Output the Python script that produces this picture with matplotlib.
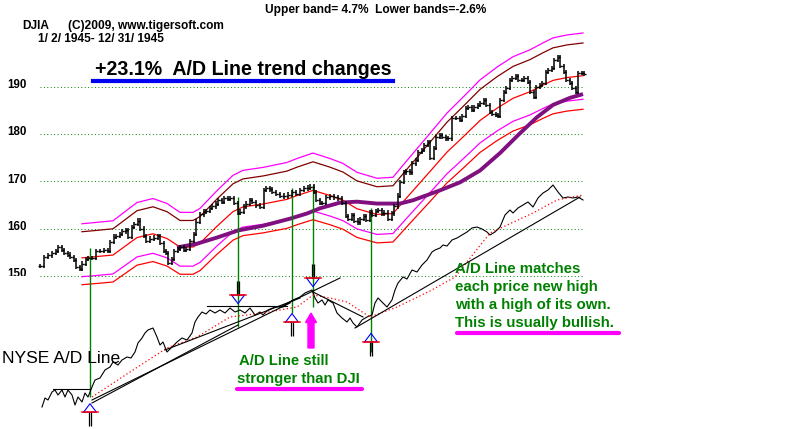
import numpy as np
import matplotlib
matplotlib.use("Agg")
import matplotlib.pyplot as plt
from matplotlib.lines import Line2D
from matplotlib.patches import Rectangle

plt.rcParams['font.family'] = ['Liberation Sans', 'DejaVu Sans']

# DJIA 1945, (trading day, close)
bars = [(0, 152.1), (2, 154.0), (4, 154.3), (6, 154.9), (8, 155.3), (9, 156.0), (11, 155.5),
        (12, 154.9), (14, 154.5), (15, 154.0), (17, 153.4), (18, 151.9), (20, 151.5), (21, 152.6),
        (23, 153.6), (24, 153.8), (26, 153.8), (28, 155.3), (30, 155.3), (32, 155.5), (34, 155.3),
        (35, 157.2), (37, 158.3), (38, 158.5), (40, 158.9), (41, 159.4), (43, 159.6), (44, 158.3),
        (46, 160.4), (47, 160.9), (49, 161.7), (50, 160.0), (52, 158.5), (53, 157.4), (55, 157.9),
        (57, 158.1), (59, 158.5), (60, 157.0), (62, 155.3), (63, 154.9), (64, 152.8), (66, 153.6),
        (67, 155.3), (69, 155.7), (70, 156.0), (72, 155.5), (73, 155.7), (75, 157.4), (77, 158.9),
        (78, 161.5), (80, 163.0), (82, 163.6), (83, 163.8), (85, 164.3), (86, 164.7), (88, 165.3),
        (89, 166.0), (91, 165.7), (92, 166.4), (94, 166.2), (95, 166.4), (97, 165.5), (99, 163.4),
        (100, 163.6), (102, 164.7), (103, 165.3), (105, 166.0), (106, 165.7), (108, 164.9),
        (110, 164.5), (112, 168.1), (113, 168.5), (115, 168.3), (116, 167.7), (118, 167.4),
        (120, 167.0), (122, 166.8), (124, 167.2), (126, 167.7), (128, 167.4), (130, 168.1),
        (132, 168.5), (134, 168.7), (135, 168.9), (137, 167.7), (138, 166.0), (140, 165.5),
        (141, 165.5), (143, 166.6), (145, 166.8), (147, 166.6), (149, 166.4), (151, 165.5),
        (153, 162.6), (154, 162.1), (156, 162.8), (157, 161.7), (159, 161.3), (160, 162.1),
        (162, 162.6), (163, 161.9), (165, 163.4), (166, 162.8), (168, 163.8), (169, 164.0),
        (171, 163.2), (172, 163.4), (174, 162.1), (176, 163.2), (177, 164.7), (179, 167.0),
        (180, 169.8), (182, 171.9), (183, 172.1), (185, 171.9), (186, 173.8), (188, 174.5),
        (189, 176.2), (191, 176.6), (192, 177.7), (194, 178.3), (195, 174.9), (197, 177.0),
        (198, 179.4), (200, 179.8), (201, 179.4), (203, 179.1), (204, 179.1), (206, 183.4),
        (208, 183.4), (210, 183.0), (211, 183.8), (213, 185.5), (214, 185.7), (216, 185.1),
        (217, 185.7), (219, 186.2), (220, 186.6), (222, 187.2), (223, 186.2), (225, 184.7),
        (226, 184.3), (228, 184.0), (229, 183.8), (230, 187.2), (232, 188.9), (233, 189.8),
        (235, 191.5), (236, 191.9), (238, 192.3), (239, 191.5), (241, 191.5), (242, 191.9),
        (244, 191.1), (245, 188.9), (247, 187.9), (248, 190.0), (250, 190.4), (251, 190.9),
        (253, 193.2), (254, 193.6), (256, 194.0), (257, 195.7), (259, 196.4), (260, 194.5),
        (262, 193.2), (263, 191.5), (265, 190.9), (266, 189.8), (268, 188.9), (269, 193.0),
        (271, 193.0), (272, 192.8)]
bar_day = np.array([b[0] for b in bars], dtype=float)
bar_close = np.array([b[1] for b in bars])

# centre band line and the band offsets
band_day = [21, 26.5, 36.5, 48.5, 56.5, 63.5, 70, 76.5, 80, 88.5, 96.5, 101.5, 111.5, 123.5,
            128.5, 136.5, 145, 151.5, 158.5, 168.5, 176.5, 183.5, 195, 203.5, 211.5, 220,
            228.5, 236.5, 245, 251.5, 256.5, 263.5, 271.5]
band_mid = np.array([153.8, 154.0, 154.4, 158.1, 158.9, 157.9, 156.1, 156.1, 156.9, 160.5,
                     163.6, 164.6, 165.2, 166.2, 167.0, 168.1, 167.0, 166.0, 164.2, 163.0,
                     163.2, 166.6, 172.1, 176.2, 179.4, 182.9, 185.5, 187.6, 189.0, 190.4,
                     191.4, 192.0, 192.4])
band_pcts = [0.047, 0.036, -0.026, -0.037]
band_colors = ['#ff00ff', '#800000', '#ff00ff', '#ff0000']

# long moving average (purple)
ma_day = [68.5, 78.5, 88.5, 99, 111.5, 125, 133.5, 140, 150, 158.5, 168.5, 180, 186.5, 200,
          210, 220, 230, 240, 248.5, 256.5, 265, 271.5]
ma_val = [156.0, 156.8, 158.1, 159.6, 160.6, 162.1, 163.2, 164.3, 165.5, 165.7, 165.3, 165.3,
          166.0, 168.1, 169.8, 172.3, 176.0, 180.2, 183.6, 186.2, 187.7, 188.5]

# NYSE A/D line
ad_day = [1, 2.5, 4, 6, 7.5, 9, 11, 12.5, 14, 16, 17.5, 19, 21, 22.5, 24, 26, 27.5, 30, 32.5,
          35, 36.5, 39, 41, 43.5, 45.5, 47.5, 49, 51, 52.5, 54, 56.5, 58.5, 60, 61.5, 63.5, 66,
          68.5, 71, 73.5, 76, 77.5, 79, 81, 83, 85, 87.5, 90, 92.5, 95, 97.5, 100, 102.5, 105,
          107.5, 110, 111.5, 114, 117.5, 121.5, 124, 126.5, 130, 132.5, 136, 137.5, 139, 141,
          142.5, 144, 146.5, 148.5, 151, 153.5, 155, 156.5, 158.5, 161, 163.5, 166, 167.5, 169,
          171, 173.5, 176, 177.5, 179, 181.5, 183.5, 186, 188.5, 191, 193.5, 196, 197.5, 200,
          201.5, 203.5, 206, 208.5, 211, 213.5, 216, 218.5, 221, 223.5, 225, 227.5, 230, 232.5,
          235, 236.5, 239, 241.5, 244, 246.5, 249, 251.5, 254, 256.5, 259, 261.5, 264, 266.5,
          269, 271.5]
ad_val = [-2140, -1960, -2000, -1840, -1800, -1900, -1800, -1940, -1800, -1900, -2100, -1940,
          -2040, -1860, -1940, -1740, -1600, -1560, -1400, -1340, -1240, -1300, -1200, -1140,
          -1160, -1040, -860, -760, -660, -600, -560, -740, -900, -840, -1040, -940, -840, -760,
          -800, -660, -440, -340, -240, -280, -200, -260, -200, -260, -160, -240, -200, -260,
          -160, -300, -240, -300, -200, -140, -140, -60, 0, 60, 140, 200, 40, -60, 0, -100, 0,
          -60, -260, -360, -440, -360, -460, -540, -400, -340, -300, -60, 40, -40, -140, 0, 200,
          340, 460, 420, 600, 560, 700, 800, 960, 1000, 1040, 1100, 1080, 1200, 1240, 1300, 1360,
          1440, 1460, 1420, 1360, 1300, 1360, 1460, 1700, 1800, 1740, 1840, 1900, 1960, 1860,
          2040, 2140, 2200, 2300, 2160, 2040, 2060, 2040, 2060, 2000]

# A/D moving average (red dotted)
adma_day = [26, 46.5, 63.5, 78.5, 95, 111.5, 128.5, 136.5, 145, 153.5, 165, 178.5, 195, 207.5,
            225, 246.5, 258.5, 271.5]
adma_val = [-1940, -1400, -960, -740, -340, -260, -140, 100, 40, -40, -340, -140, 180, 460,
            1340, 1740, 2000, 2100]

# A/D trendlines: (day0, ad0, day1, ad1)
trend_lines = [(26, -2000, 125, -60), (26, -2060, 99, -500), (62.5, -1000, 130, 40),
               (6.5, -1780, 25, -1780), (83.5, -120, 123.5, -120), (120, -140, 150, 440),
               (136.5, 160, 161.5, -340), (157.5, -560, 270, 2060)]

# trend change signals: green verticals (day, top, bottom) in price units
signal_day = [25, 99, 126, 136.5, 165.5]
signal_top = [155.9, 166.7, 168.6, 169.2, 164.4]
signal_bot = [124.3, 139.2, 142.1, 143.4, 133.9]

# arrows: day, base price, direction
arrow_day = [25, 99, 126, 136.5, 165.5]
arrow_base = [121.1, 145.9, 140.2, 149.5, 136.0]
arrow_dir = ['up', 'down', 'up', 'down', 'up']

price_ticks = [190, 180, 170, 160, 150]

fig = plt.figure(figsize=(8, 4.29), dpi=100)
ax = fig.add_axes([0, 0, 1, 1])
ax.set_xlim(-20, 380)
ax.set_ylim(117.54, 208.43)
ax.axis('off')

# grid
ax.hlines(price_ticks, 0, 272, colors='#008000', linestyles=[(0, (1, 2.5))], lw=0.7, zorder=1)
for t in price_ticks:
    ax.text(-16.5, t + 0.4, str(t), fontsize=8.3, fontweight='bold', va='center', ha='left')

# bands
for pct, col in zip(band_pcts, band_colors):
    ax.plot(band_day, band_mid * (1 + pct), color=col, lw=0.9, zorder=2)
ax.plot(band_day, band_mid, color='#ff0000', lw=0.9, zorder=2)
ax.plot(ma_day, ma_val, color='#80107f', lw=2.8, zorder=3, solid_capstyle='butt')

# price bars
bar_open = np.r_[bar_close[0], bar_close[:-1]]
hi = np.maximum(bar_open, bar_close) + 0.45
lo = np.minimum(bar_open, bar_close) - 0.45
ax.vlines(bar_day, lo, hi, color='black', lw=1.1, zorder=4)
ax.hlines(bar_open, bar_day - 1, bar_day, color='black', lw=1.0, zorder=4)
ax.hlines(bar_close, bar_day, bar_day + 1, color='black', lw=1.0, zorder=4)

# signal lines
ax.vlines(signal_day, signal_bot, signal_top, color='#008000', lw=1.0, zorder=3)

# A/D panel
ax2 = ax.twinx()
ax2.set_ylim(-2580, 6000)
ax2.axis('off')
ax2.plot(ad_day, ad_val, color='black', lw=0.8)
ax2.plot(adma_day, adma_val, color='#ff0000', lw=0.9, linestyle=(0, (1, 2)))
for d0, v0, d1, v1 in trend_lines:
    ax2.plot([d0, d1], [v0, v1], color='black', lw=0.8)

# arrows
for d, base, direction in zip(arrow_day, arrow_base, arrow_dir):
    s = 1 if direction == 'up' else -1
    ax.plot([d - 3.2, d + 3.2, d, d - 3.2], [base, base, base + s * 1.8, base],
            color='#0000ff', lw=0.8, zorder=6)
    ax.plot([d - 4, d + 4], [base, base], color='#ff0000', lw=1.1, zorder=7)
    ax.vlines([d - 0.6, d + 0.6], base - s * 3.0, base, color='black', lw=0.9, zorder=6)

ax.arrow(135.5, 134.7, 0, 7.4, width=3.0, head_width=5.5, head_length=2.0,
         length_includes_head=True, color='#ff00ff', zorder=8)


def fp(x, y):
    return x / 800, 1 - y / 429


# texts
fig.text(*fp(265, 13), 'Upper band= 4.7%  Lower bands=-2.6%', fontsize=8.6, fontweight='bold',
         va='baseline')
fig.text(*fp(22, 29), 'DJIA', fontsize=8.6, fontweight='bold', va='baseline')
fig.text(*fp(68, 29), '(C)2009, www.tigersoft.com', fontsize=8.6, fontweight='bold', va='baseline')
fig.text(*fp(38, 42), '1/ 2/ 1945- 12/ 31/ 1945', fontsize=8.6, fontweight='bold', va='baseline')
fig.text(*fp(95, 75), '+23.1%  A/D Line trend changes', fontsize=14.1, fontweight='bold',
         va='baseline')
fig.add_artist(Line2D([93 / 800, 393 / 800], [1 - 81 / 429] * 2, color='#0000f0', lw=3.0))
fig.text(*fp(2, 363), 'NYSE A/D Line', fontsize=12.6, va='baseline')

green = '#008000'
fig.text(*fp(239, 365), 'A/D Line still', fontsize=10.7, fontweight='bold', color=green,
         va='baseline')
fig.text(*fp(237, 383), 'stronger than DJI', fontsize=10.7, fontweight='bold', color=green,
         va='baseline')
fig.add_artist(Line2D([237 / 800, 362 / 800], [1 - 388.5 / 429] * 2, color='#ff00ff', lw=3.0,
                      solid_capstyle='round'))

right_lines = ['A/D Line matches', 'each price new high', 'with a high of its own.',
               'This is usually bullish.']
for i, s in enumerate(right_lines):
    fig.text(*fp(455, 273 + 18 * i), s, fontsize=10.8, fontweight='bold', color=green,
             va='baseline')
fig.add_artist(Line2D([457 / 800, 619 / 800], [1 - 333 / 429] * 2, color='#ff00ff', lw=3.0,
                      solid_capstyle='round'))

# bottom of the 150 label is hidden under the A/D panel
fig.add_artist(Rectangle((0, 1 - 285 / 429), 36 / 800, 9 / 429, transform=fig.transFigure,
                         facecolor='white', edgecolor='none', zorder=10))

fig.savefig('out.png', dpi=100, facecolor='white')
